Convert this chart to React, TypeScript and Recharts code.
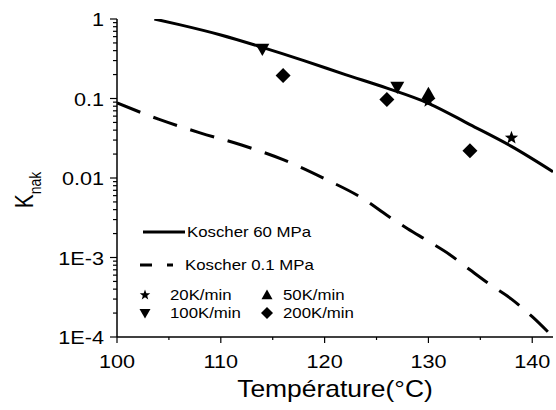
import React from "react";
import { ComposedChart, Line, Scatter, XAxis, YAxis, Legend } from "recharts";

// Koscher model curves
const TEMP_60MPA = [103.6, 106, 110, 114, 118, 122, 126, 130, 134, 138, 142];
const K_60MPA = [1, 0.85, 0.63, 0.44, 0.3, 0.2, 0.135, 0.087, 0.047, 0.025, 0.012];
const TEMP_01MPA = [100, 104, 108, 112, 116, 120, 124, 126, 128, 130, 132, 134, 136, 138, 140, 142];
const K_01MPA = [0.088, 0.055, 0.037, 0.026, 0.017, 0.0098, 0.0052, 0.0034, 0.0023, 0.0016, 0.0011, 0.0007, 0.00045, 0.0003, 0.00018, 0.0001];

// measured points per heating rate
const TEMP_20K = [130, 138];
const K_20K = [0.093, 0.032];
const TEMP_50K = [130];
const K_50K = [0.115];
const TEMP_100K = [114, 127];
const K_100K = [0.42, 0.14];
const TEMP_200K = [116, 126, 134];
const K_200K = [0.195, 0.097, 0.022];

// axis ticks
const X_TICKS = [100, 105, 110, 115, 120, 125, 130, 135, 140];
const X_LABELS = [100, 110, 120, 130, 140];
const Y_MAJOR = [1e-4, 1e-3, 0.01, 0.1, 1];
const Y_LABELS = ["1E-4", "1E-3", "0.01", "0.1", "1"];

const FONT = "'Liberation Sans', Arial, sans-serif";

const toPoints = (xs: number[], ys: number[]) => xs.map((x, i) => ({ x, y: ys[i] }));

const yTicks: number[] = [];
Y_MAJOR.slice(0, 4).forEach((d) => {
  for (let k = 1; k <= 9; k++) yTicks.push(Number((d * k).toPrecision(3)));
});
yTicks.push(1);

const majorIndex = (v: number) =>
  Y_MAJOR.findIndex((m) => Math.abs(Math.log10(v) - Math.log10(m)) < 1e-6);

const LeftYTick = (props: any) => {
  const { x, y, payload } = props;
  const i = majorIndex(payload.value);
  const major = i >= 0;
  return (
    <g>
      <line x1={x} x2={x - (major ? 7 : 4)} y1={y} y2={y} stroke="#000" strokeWidth={1.2} />
      {major && (
        <text
          transform={`translate(${x - 13},${y + 7}) scale(1.17,1)`}
          textAnchor="end"
          fontSize={18.5}
          fontFamily={FONT}
          fill="#000"
        >
          {Y_LABELS[i]}
        </text>
      )}
    </g>
  );
};

const RightYTick = (props: any) => {
  const { x, y, payload } = props;
  const major = majorIndex(payload.value) >= 0;
  return <line x1={x} x2={x - (major ? 7 : 4)} y1={y} y2={y} stroke="#000" strokeWidth={1.2} />;
};

const XTick = (props: any) => {
  const { x, y, payload } = props;
  const major = X_LABELS.includes(payload.value);
  return (
    <g>
      <line x1={x} x2={x} y1={y} y2={y + (major ? 6 : 3)} stroke="#000" strokeWidth={1.2} />
      {major && (
        <text
          transform={`translate(${x},${y + 31}) scale(1.17,1)`}
          textAnchor="middle"
          fontSize={18.5}
          fontFamily={FONT}
          fill="#000"
        >
          {payload.value}
        </text>
      )}
    </g>
  );
};

const starPoints = (cx: number, cy: number, r: number) => {
  const pts: string[] = [];
  for (let i = 0; i < 10; i++) {
    const rr = i % 2 === 0 ? r : r * 0.42;
    const a = -Math.PI / 2 + (i * Math.PI) / 5;
    pts.push(`${cx + rr * Math.cos(a)},${cy + rr * Math.sin(a)}`);
  }
  return pts.join(" ");
};

const Star = ({ cx, cy, r = 7 }: any) => <polygon points={starPoints(cx, cy, r)} fill="#000" />;
const TriUp = ({ cx, cy, r = 7 }: any) => (
  <polygon points={`${cx},${cy - r} ${cx + r},${cy + r * 0.75} ${cx - r},${cy + r * 0.75}`} fill="#000" />
);
const TriDown = ({ cx, cy, r = 7 }: any) => (
  <polygon points={`${cx},${cy + r} ${cx + r},${cy - r * 0.75} ${cx - r},${cy - r * 0.75}`} fill="#000" />
);
const Diamond = ({ cx, cy, r = 7.5 }: any) => (
  <polygon points={`${cx},${cy - r} ${cx + r},${cy} ${cx},${cy + r} ${cx - r},${cy}`} fill="#000" />
);

const LegendText = ({ x, y, children }: any) => (
  <text transform={`translate(${x},${y}) scale(1.2,1)`} fontSize={14} fontFamily={FONT} fill="#000">
    {children}
  </text>
);

const LegendBox = () => (
  <svg width={240} height={110} style={{ display: "block" }}>
    <line x1={13} x2={55} y1={17} y2={17} stroke="#000" strokeWidth={3} />
    <LegendText x={57} y={22}>Koscher 60 MPa</LegendText>
    <line x1={10} x2={43} y1={50} y2={50} stroke="#000" strokeWidth={3} strokeDasharray="12 15" />
    <LegendText x={55} y={55}>Koscher 0.1 MPa</LegendText>
    <Star cx={15} cy={80} r={5.5} />
    <LegendText x={40} y={85}>20K/min</LegendText>
    <TriUp cx={137} cy={80} r={5.5} />
    <LegendText x={153} y={85}>50K/min</LegendText>
    <TriDown cx={15} cy={98} r={5.5} />
    <LegendText x={40} y={103}>100K/min</LegendText>
    <Diamond cx={137} cy={98} r={6} />
    <LegendText x={153} y={103}>200K/min</LegendText>
  </svg>
);

export default function App() {
  return (
    <div style={{ position: "absolute", left: 0, top: 0, background: "#fff" }}>
      <ComposedChart width={556} height={410} margin={{ top: 19, right: 3, bottom: 0, left: 0 }}>
        <XAxis
          dataKey="x"
          type="number"
          domain={[100, 142]}
          allowDataOverflow
          ticks={X_TICKS}
          interval={0}
          tickSize={0}
          tickMargin={0}
          tickLine={false}
          tick={(p: any) => <XTick {...p} />}
          height={73}
          axisLine={{ stroke: "#000", strokeWidth: 1.5 }}
        />
        <XAxis
          xAxisId="top"
          dataKey="x"
          orientation="top"
          type="number"
          domain={[100, 142]}
          allowDataOverflow
          tick={false}
          tickLine={false}
          height={0}
          axisLine={{ stroke: "#000", strokeWidth: 1.5 }}
        />
        <YAxis
          type="number"
          scale="log"
          domain={[1e-4, 1]}
          allowDataOverflow
          ticks={yTicks}
          interval={0}
          tickSize={0}
          tickMargin={0}
          tickLine={false}
          tick={(p: any) => <LeftYTick {...p} />}
          width={117}
          axisLine={{ stroke: "#000", strokeWidth: 1.5 }}
        />
        <YAxis
          yAxisId="right"
          orientation="right"
          type="number"
          scale="log"
          domain={[1e-4, 1]}
          allowDataOverflow
          ticks={yTicks}
          interval={0}
          tickSize={0}
          tickMargin={0}
          tickLine={false}
          tick={(p: any) => <RightYTick {...p} />}
          width={0}
          axisLine={{ stroke: "#000", strokeWidth: 1.5 }}
        />
        <Line
          data={toPoints(TEMP_60MPA, K_60MPA)}
          dataKey="y"
          type="monotone"
          stroke="#000"
          strokeWidth={3}
          dot={false}
          isAnimationActive={false}
        />
        {/* same domains as the main axes: this series keeps the top and right frame axes drawn */}
        <Line
          xAxisId="top"
          yAxisId="right"
          data={toPoints(TEMP_01MPA, K_01MPA)}
          dataKey="y"
          type="monotone"
          stroke="#000"
          strokeWidth={3}
          strokeDasharray="25 14"
          dot={false}
          isAnimationActive={false}
        />
        <Scatter data={toPoints(TEMP_20K, K_20K)} dataKey="y" shape={(p: any) => <Star cx={p.cx} cy={p.cy} r={7} />} isAnimationActive={false} />
        <Scatter data={toPoints(TEMP_50K, K_50K)} dataKey="y" shape={(p: any) => <TriUp cx={p.cx} cy={p.cy} />} isAnimationActive={false} />
        <Scatter data={toPoints(TEMP_100K, K_100K)} dataKey="y" shape={(p: any) => <TriDown cx={p.cx} cy={p.cy} />} isAnimationActive={false} />
        <Scatter data={toPoints(TEMP_200K, K_200K)} dataKey="y" shape={(p: any) => <Diamond cx={p.cx} cy={p.cy} />} isAnimationActive={false} />
        <Legend
          layout="vertical"
          align="center"
          verticalAlign="middle"
          content={() => <LegendBox />}
          wrapperStyle={{ left: 130, top: 215, width: 240, height: 110 }}
        />
        <text
          transform="translate(335,397) scale(1.15,1)"
          textAnchor="middle"
          fontSize={23}
          fontFamily={FONT}
          fill="#000"
        >
          Température(°C)
        </text>
        <text
          transform="translate(33,190) rotate(-90) scale(1,1.2)"
          textAnchor="middle"
          fontSize={21}
          fontFamily={FONT}
          fill="#000"
        >
          K<tspan fontSize={14} dy={7}>nak</tspan>
        </text>
      </ComposedChart>
    </div>
  );
}
